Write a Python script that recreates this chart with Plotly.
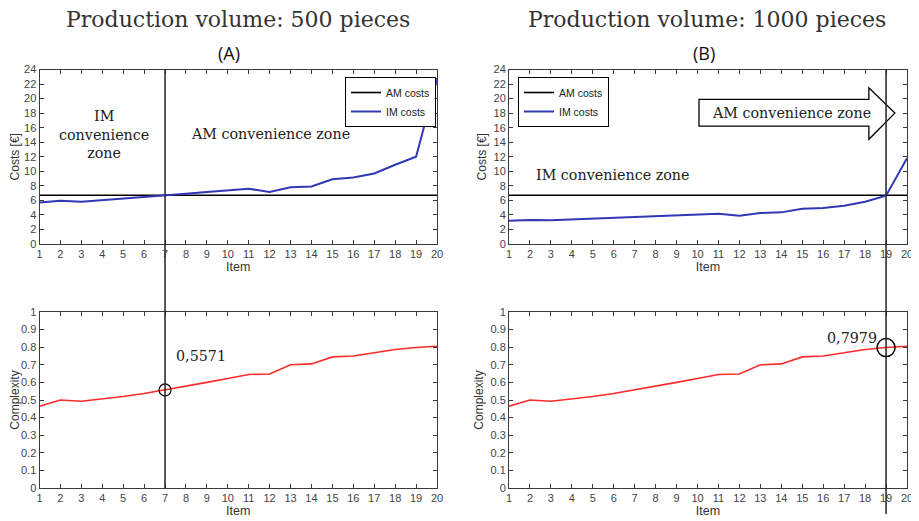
import plotly.graph_objects as go

items = list(range(1, 21))

im_costs_500 = [5.7, 5.95, 5.8, 6.0, 6.2, 6.45, 6.7, 6.9, 7.15, 7.35,
                7.6, 7.15, 7.8, 7.9, 8.9, 9.15, 9.7, 10.9, 12.0, 22.8]
am_costs_500 = [6.7, 6.7, 6.7, 6.7, 6.7, 6.7, 6.7, 6.7, 6.7, 6.7,
                6.7, 6.7, 6.7, 6.7, 6.7, 6.7, 6.7, 6.7, 6.7, 6.7]
im_costs_1000 = [3.2, 3.3, 3.25, 3.35, 3.45, 3.55, 3.65, 3.75, 3.9, 4.0,
                 4.15, 3.9, 4.25, 4.35, 4.85, 4.95, 5.25, 5.8, 6.65, 11.8]
am_costs_1000 = [6.7, 6.7, 6.7, 6.7, 6.7, 6.7, 6.7, 6.7, 6.7, 6.7,
                 6.7, 6.7, 6.7, 6.7, 6.7, 6.7, 6.7, 6.7, 6.7, 6.7]
complexity = [0.465, 0.50, 0.493, 0.505, 0.52, 0.537, 0.5571, 0.578, 0.60, 0.622,
              0.645, 0.648, 0.70, 0.705, 0.745, 0.75, 0.77, 0.787, 0.7979, 0.805]

break_item_a = 7
break_item_b = 19
label_a = "0,5571"
label_b = "0,7979"

# page body has an 8px margin: size the figure so the page is 919x521
OFF = 8
W, H = 919 - OFF, 521 - OFF
BLUE = "#3038b6"
RED = "#ff2a2a"
AX = "#3a3a3a"
SERIF = "DejaVu Serif"
SANS = "Liberation Sans"

fig = go.Figure()

fig.add_trace(go.Scatter(x=items, y=am_costs_500, mode="lines", name="AM costs",
                         line=dict(color="black", width=1.6), xaxis="x", yaxis="y", legend="legend"))
fig.add_trace(go.Scatter(x=items, y=im_costs_500, mode="lines", name="IM costs",
                         line=dict(color=BLUE, width=2), xaxis="x", yaxis="y", legend="legend"))
fig.add_trace(go.Scatter(x=items, y=am_costs_1000, mode="lines", name="AM costs",
                         line=dict(color="black", width=1.6), xaxis="x2", yaxis="y2", legend="legend2"))
fig.add_trace(go.Scatter(x=items, y=im_costs_1000, mode="lines", name="IM costs",
                         line=dict(color=BLUE, width=2), xaxis="x2", yaxis="y2", legend="legend2"))
fig.add_trace(go.Scatter(x=items, y=complexity, mode="lines", showlegend=False,
                         line=dict(color=RED, width=1.6), xaxis="x3", yaxis="y3"))
fig.add_trace(go.Scatter(x=items, y=complexity, mode="lines", showlegend=False,
                         line=dict(color=RED, width=1.6), xaxis="x4", yaxis="y4"))
ia = items.index(break_item_a)
ib = items.index(break_item_b)
fig.add_trace(go.Scatter(x=[items[ia]], y=[complexity[ia]], mode="markers", showlegend=False,
                         marker=dict(symbol="circle-open", size=12, color="black", line=dict(width=1.2)),
                         xaxis="x3", yaxis="y3"))
fig.add_trace(go.Scatter(x=[items[ib]], y=[complexity[ib]], mode="markers", showlegend=False,
                         marker=dict(symbol="circle-open", size=18, color="black", line=dict(width=1.5)),
                         xaxis="x4", yaxis="y4"))


def px_x(p):
    return (p - OFF) / W


def px_y(p):
    return (H - (p - OFF)) / H


xl = [px_x(39.5), px_x(437)]
xr = [px_x(509), px_x(907)]
yt = [px_y(244), px_y(69.5)]
yb = [px_y(488), px_y(312)]


def xaxis(dom, anchor):
    return dict(domain=dom, anchor=anchor, range=[1, 20], dtick=1, tick0=1,
                ticks="inside", ticklen=4, tickcolor=AX, showline=True, linecolor=AX,
                linewidth=1, mirror="ticks", showgrid=False, zeroline=False,
                tickfont=dict(family=SANS, size=11, color="#444"),
                title=dict(text="Item", font=dict(family=SANS, size=12.5, color="#333"), standoff=3),
                automargin=False)


def yaxis(dom, anchor, rng, dt, title):
    return dict(domain=dom, anchor=anchor, range=rng, dtick=dt, tick0=0,
                ticks="inside", ticklen=4, tickcolor=AX, showline=True, linecolor=AX,
                linewidth=1, mirror="ticks", showgrid=False, zeroline=False,
                tickfont=dict(family=SANS, size=11, color="#444"),
                title=dict(text=title, font=dict(family=SANS, size=12, color="#333"), standoff=4),
                automargin=False)


leg_common = dict(yanchor="top", bordercolor="black", borderwidth=1, bgcolor="white",
                  font=dict(family=SANS, size=10.5, color="#222"), tracegroupgap=0,
                  itemwidth=30)

fig.update_layout(
    width=W, height=H, margin=dict(l=0, r=0, t=0, b=0),
    paper_bgcolor="white", plot_bgcolor="white",
    xaxis=xaxis(xl, "y"), yaxis=yaxis(yt, "x", [0, 24], 2, "Costs [€]"),
    xaxis2=xaxis(xr, "y2"), yaxis2=yaxis(yt, "x2", [0, 24], 2, "Costs [€]"),
    xaxis3=xaxis(xl, "y3"), yaxis3=yaxis(yb, "x3", [0, 1], 0.1, "Complexity"),
    xaxis4=xaxis(xr, "y4"), yaxis4=yaxis(yb, "x4", [0, 1], 0.1, "Complexity"),
    legend=dict(x=px_x(436), y=px_y(77), xanchor="right", **leg_common),
    legend2=dict(x=px_x(518), y=px_y(77), xanchor="left", **leg_common),
    showlegend=True,
)

arrow_pts = [(10.07, 16.2), (18.18, 16.2), (18.18, 14.4), (19.42, 18.0),
             (18.18, 21.5), (18.18, 19.9), (10.07, 19.9)]
path = "M " + " L ".join(f"{x},{y}" for x, y in arrow_pts) + " Z"
fig.add_shape(type="path", path=path, xref="x2", yref="y2",
              line=dict(color="black", width=1.3), fillcolor="white")

fig.add_shape(type="line", xref="x", yref="paper", x0=break_item_a, x1=break_item_a,
              y0=yb[0], y1=yt[1], line=dict(color="#222", width=1.5))
fig.add_shape(type="line", xref="x2", yref="paper", x0=break_item_b, x1=break_item_b,
              y0=px_y(514), y1=yt[1], line=dict(color="#222", width=1.5))


def pann(text, x, y, font, **kw):
    return dict(text=text, x=px_x(x), y=px_y(y), xref="paper", yref="paper",
                xanchor="center", yanchor="middle", showarrow=False, font=font, **kw)


ann = []
tf = dict(family=SERIF, size=22, color="#333")
ann.append(pann("Production volume: 500 pieces", 238, 19, tf))
ann.append(pann("Production volume: 1000 pieces", 707, 19, tf))
lf = dict(family="Open Sans", size=18, color="#111")
ann.append(pann("(A)", 229, 53, lf))
ann.append(pann("(B)", 704, 53, lf))
zf = dict(family=SERIF, size=14.3, color="#222")
ann.append(pann("IM<br>convenience<br>zone", 104, 134, zf, align="center"))
ann.append(pann("AM convenience zone", 270, 134, zf))
ann.append(pann("IM convenience zone", 612, 175, zf))
ann.append(pann("AM convenience zone", 791, 113, zf))
ann.append(dict(text=label_a, x=items[ia], y=complexity[ia], xref="x3", yref="y3",
                xanchor="center", yanchor="middle",
                xshift=36, yshift=34, showarrow=False, font=zf))
ann.append(dict(text=label_b, x=items[ib], y=complexity[ib], xref="x4", yref="y4",
                xanchor="center", yanchor="middle",
                xshift=-34, yshift=10, showarrow=False, font=zf))
fig.update_layout(annotations=ann)

fig.write_html("out.html")
